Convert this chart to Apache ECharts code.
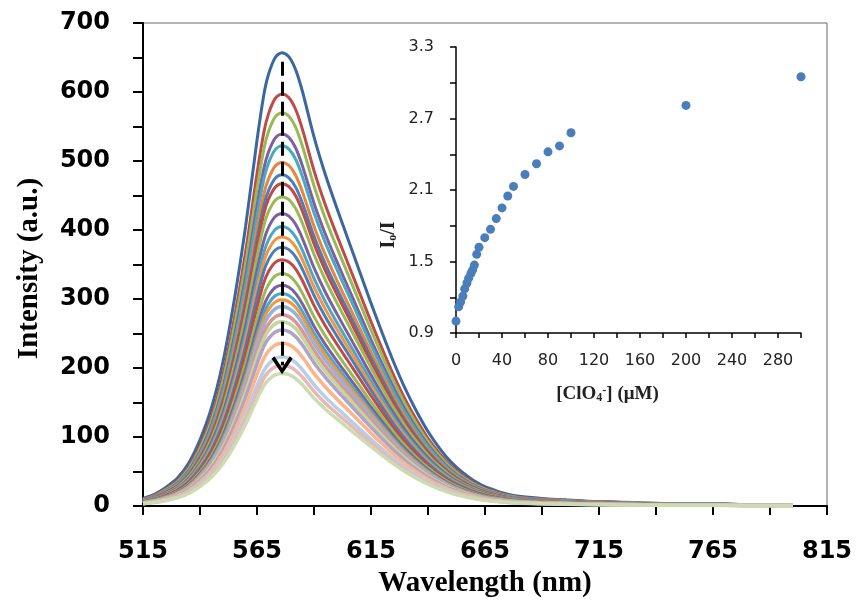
<!DOCTYPE html>
<html>
<head>
<meta charset="utf-8">
<script src="https://cdn.jsdelivr.net/npm/echarts@6/dist/echarts.min.js"></script>
<style>
  html, body { margin: 0; padding: 0; background: #fff; }
  #chart { width: 860px; height: 603px; }
</style>
</head>
<body>
<div id="chart"></div>
<script>
// wavelength grid (nm) and the outermost (free dye) spectrum
const wavelengths = [515, 520, 525, 530, 535, 540, 545, 550, 555, 560, 565, 568, 570, 573, 576, 579, 582, 585, 590, 595,
  600, 605, 610, 615, 620, 625, 630, 635, 640, 645, 650, 655, 660, 665, 670, 675, 680, 690, 700, 710,
  720, 730, 740, 750, 760, 770, 780, 790, 800]
const topCurve = [11, 17, 27, 40, 62, 96, 142, 208, 298, 405, 530, 596, 625, 650, 657, 651, 632, 600, 535, 480,
  432, 386, 340, 294, 250, 208, 170, 137, 108, 84, 64, 49, 37, 28, 22, 17, 14, 11, 9, 7,
  6, 5, 4, 3, 3, 3, 2, 2, 2]
// peak heights of every titration curve, top to bottom
const peaks = [657, 597, 570, 539, 522, 498, 480, 467, 448, 424, 405, 390, 375, 357, 337, 320, 308, 299,
  289, 277, 267, 255, 236, 216, 204, 192]
const curveColors = ['#3a67a0', '#be4b48', '#98b954', '#7d60a0', '#46aac5', '#e9843a',
  '#4a7ebb', '#be4b48', '#98b954', '#7d60a0', '#46aac5', '#f69240',
  '#4a7ebb', '#be4b48', '#98b954', '#7d60a0', '#46aac5', '#f69240',
  '#95b3d7', '#d99694', '#c3d69b', '#b3a2c7', '#fab58a', '#b9cde5', '#e6b9b8', '#cbdcb0']
// arrow: wavelength, start and end intensity
const arrowLine = [576, 644, 204]

// inset: I0/I vs [ClO4-]
const conc = [0, 2.3, 4, 6, 7.5, 9.5, 11, 13, 14.5, 16, 18, 20, 25, 30, 35, 40, 45, 50, 60, 70, 80, 90, 100, 200, 300]
const ratio = [1.0, 1.12, 1.16, 1.21, 1.27, 1.32, 1.36, 1.40, 1.43, 1.47, 1.56, 1.62, 1.70, 1.77, 1.86, 1.95, 2.05, 2.13,
  2.23, 2.32, 2.42, 2.47, 2.58, 2.81, 3.05]

const serif = 'Liberation Serif'
const sans = 'DejaVu Sans'

let getSeries = () => {
  const base = Math.max(...topCurve)
  const list = peaks.map((p, i) => {
    return {
      type: 'line',
      xAxisIndex: 0,
      yAxisIndex: 0,
      smooth: 0.3,
      showSymbol: false,
      symbol: 'none',
      silent: true,
      lineStyle: { width: i >= 18 ? 3.5 : 3, color: curveColors[i] },
      data: wavelengths.map((w, j) => [w, (topCurve[j] * p) / base])
    }
  })
  list.push({
    type: 'line',
    xAxisIndex: 0,
    yAxisIndex: 0,
    data: [],
    z: 10,
    markLine: {
      silent: true,
      symbol: ['none', 'path://M10,0 L20,15 L17.3,17.5 L10,6 L2.7,17.5 L0,15 Z'],
      symbolSize: [21, 18],
      label: { show: false },
      lineStyle: { color: '#000', width: 3, type: [14, 6], opacity: 1 },
      data: [[{ coord: [arrowLine[0], arrowLine[1]] }, { coord: [arrowLine[0], arrowLine[2]] }]]
    }
  })
  list.push({
    type: 'scatter',
    xAxisIndex: 1,
    yAxisIndex: 1,
    symbolSize: 9,
    itemStyle: { color: '#4a7ebb', opacity: 1 },
    data: conc.map((c, i) => [c, ratio[i]])
  })
  return list
}

const chart = echarts.init(document.getElementById('chart'))
chart.setOption({
  animation: false,
  backgroundColor: '#fff',
  grid: [
    { left: 143, right: 33, top: 23, bottom: 97, show: true, borderColor: '#666', borderWidth: 1 },
    { left: 456, right: 59, top: 47, bottom: 270 }
  ],
  xAxis: [
    {
      type: 'value',
      gridIndex: 0,
      min: 515,
      max: 815,
      interval: 25,
      splitLine: { show: false },
      axisLine: { lineStyle: { color: '#000', width: 2 } },
      axisTick: { length: 9, lineStyle: { color: '#000', width: 2 } },
      axisLabel: {
        formatter: v => ((v - 515) % 50 === 0 ? String(v) : ''),
        fontFamily: sans,
        fontWeight: 'bold',
        fontSize: 24,
        color: '#000',
        margin: 34
      },
      name: 'Wavelength (nm)',
      nameLocation: 'middle',
      nameGap: 59,
      nameTextStyle: { fontFamily: serif, fontWeight: 'bold', fontSize: 29, color: '#000' }
    },
    {
      type: 'value',
      gridIndex: 1,
      min: 0,
      max: 300,
      interval: 20,
      splitLine: { show: false },
      axisLine: { lineStyle: { color: '#000', width: 1.5 } },
      axisTick: { length: 5, lineStyle: { color: '#000', width: 1.5 } },
      axisLabel: {
        formatter: v => (v % 40 === 0 ? String(v) : ''),
        fontFamily: sans,
        fontSize: 16,
        color: '#222',
        margin: 20
      },
      name: '{a|[ClO}{b|4}{c|-}{a|] (μM)}',
      nameLocation: 'middle',
      nameGap: 52,
      nameTextStyle: {
        padding: [0, 42, 0, 0],
        rich: {
          a: { fontFamily: serif, fontWeight: 'bold', fontSize: 19, color: '#222' },
          b: { fontFamily: serif, fontWeight: 'bold', fontSize: 12, color: '#222', verticalAlign: 'bottom' },
          c: { fontFamily: serif, fontWeight: 'bold', fontSize: 12, color: '#222', verticalAlign: 'top' }
        }
      }
    }
  ],
  yAxis: [
    {
      type: 'value',
      gridIndex: 0,
      min: 0,
      max: 700,
      interval: 50,
      splitLine: { show: false },
      axisLine: { show: true, lineStyle: { color: '#000', width: 2 } },
      axisTick: { show: true, length: 10, lineStyle: { color: '#000', width: 2 } },
      axisLabel: {
        formatter: v => (v % 100 === 0 ? String(v) : ''),
        fontFamily: sans,
        fontWeight: 'bold',
        fontSize: 24,
        color: '#000',
        margin: 33
      },
      name: 'Intensity (a.u.)',
      nameLocation: 'middle',
      nameGap: 99,
      nameTextStyle: { fontFamily: serif, fontWeight: 'bold', fontSize: 29, color: '#000', padding: [0, 8, 0, 0] }
    },
    {
      type: 'value',
      gridIndex: 1,
      min: 0.9,
      max: 3.3,
      interval: 0.3,
      splitLine: { show: false },
      axisLine: { show: true, lineStyle: { color: '#000', width: 1.5 } },
      axisTick: { show: true, length: 6, lineStyle: { color: '#000', width: 1.5 } },
      axisLabel: {
        formatter: v => (Math.round((v - 0.9) / 0.3) % 2 === 0 ? v.toFixed(1) : ''),
        fontFamily: sans,
        fontSize: 16,
        color: '#222',
        margin: 22
      },
      name: '{a|I}{b|o}{a|/I}',
      nameLocation: 'middle',
      nameGap: 57,
      nameTextStyle: {
        padding: [0, 90, 0, 0],
        rich: {
          a: { fontFamily: serif, fontWeight: 'bold', fontSize: 20, color: '#222' },
          b: { fontFamily: serif, fontWeight: 'bold', fontSize: 12, color: '#222', verticalAlign: 'bottom' }
        }
      }
    }
  ],
  series: getSeries()
})
</script>
</body>
</html>
